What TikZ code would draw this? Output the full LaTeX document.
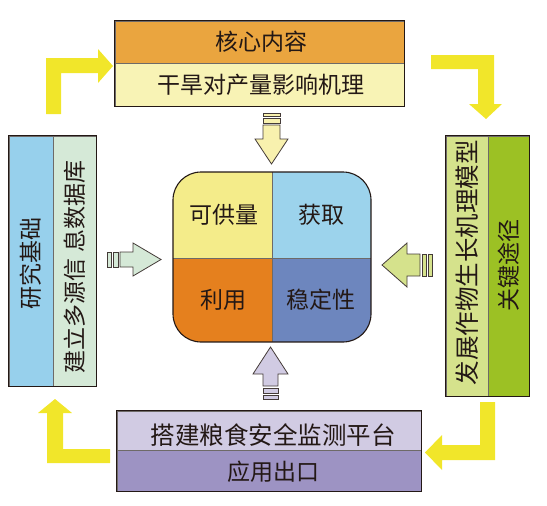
\documentclass[tikz,border=0pt]{standalone}
\usepackage{fontspec}
\newfontfamily\cjk{Noto Sans CJK SC}
\definecolor{ink}{HTML}{231815}
\definecolor{divgray}{HTML}{6E6A68}
\definecolor{topor}{HTML}{EAA53F}
\definecolor{topyl}{HTML}{F8F3B5}
\definecolor{lblue}{HTML}{97D0EC}
\definecolor{lgreen}{HTML}{D5E9D7}
\definecolor{rlime}{HTML}{D5E28C}
\definecolor{rgreen}{HTML}{9CC124}
\definecolor{blav}{HTML}{D1CBE3}
\definecolor{bpurp}{HTML}{9D93C3}
\definecolor{cyel}{HTML}{F4EC8A}
\definecolor{cblue}{HTML}{9CD3EC}
\definecolor{corg}{HTML}{E5801E}
\definecolor{cdblue}{HTML}{6D86BE}
\definecolor{lemon}{HTML}{F1E62A}
\definecolor{adown}{HTML}{F8F1AE}
\tikzset{
  cell/.style={draw=divgray, line width=0.7pt, inner sep=0pt, anchor=center},
  txt/.style={inner sep=0pt, text=ink, font=\cjk\fontsize{23}{26}\selectfont},
  bigtxt/.style={txt, font=\cjk\fontsize{24.5}{28}\selectfont},
  frame/.style={draw=ink, line width=1.3pt},
  blockarrow/.style={draw=ink!85, line width=0.8pt, line join=miter},
  bendarrow/.style={fill=lemon, draw=none}
}
\begin{document}
\begin{tikzpicture}[x=1pt,y=-1pt]
\useasboundingbox (0,0) rectangle (547,506);

% ---- top box
\node[cell, fill=topor, minimum width=289, minimum height=42] (topA) at (259.5,42) {};
\node[cell, fill=topyl, minimum width=289, minimum height=43] (topB) at (259.5,84.5) {};
\node[txt] (topAt) at (261,42) {核心内容};
\node[txt] (topBt) at (261,85) {干旱对产量影响机理};
\draw[frame] (topA.north west) rectangle (topB.south east);

% ---- left box
\node[cell, fill=lblue, minimum width=44, minimum height=250] (leftA) at (31,261) {};
\node[cell, fill=lgreen, minimum width=43, minimum height=250] (leftB) at (74.5,261) {};
\node[txt, rotate=90] (leftAt) at (31,263) {研究基础};
\node[txt, rotate=90] (leftBt) at (74.5,267) {建立多源信\hspace{0.25em}息数据库};
\draw[frame] (leftA.north west) rectangle (leftB.south east);

% ---- right box
\node[cell, fill=rlime, minimum width=42, minimum height=260] (rightA) at (467,266) {};
\node[cell, fill=rgreen, minimum width=41, minimum height=260] (rightB) at (508.5,266) {};
\node[bigtxt, rotate=90] (rightAt) at (467,262.5) {发展作物生长机理模型};
\node[txt, rotate=90] (rightBt) at (508.5,265) {关键途径};
\draw[frame] (rightA.north west) rectangle (rightB.south east);

% ---- bottom box
\node[cell, fill=blav, minimum width=304, minimum height=39] (botA) at (269,430.5) {};
\node[cell, fill=bpurp, minimum width=304, minimum height=41] (botB) at (269,470.5) {};
\node[bigtxt] (botAt) at (273,435) {搭建粮食安全监测平台};
\node[txt] (botBt) at (273,472) {应用出口};
\draw[frame] (botA.north west) rectangle (botB.south east);

% ---- centre panel
\coordinate (cNW) at (173,172);
\coordinate (cSE) at (371,342);
\begin{scope}
\clip[rounded corners=28pt] (cNW) rectangle (cSE);
\fill[cyel] (173,172) rectangle (272,258);
\fill[cblue] (272,172) rectangle (371,258);
\fill[corg] (173,258) rectangle (272,342);
\fill[cdblue] (272,258) rectangle (371,342);
\draw[divgray, line width=0.8pt] (272,172) -- (272,342) (173,258) -- (371,258);
\end{scope}
\draw[frame, line width=1.1pt, rounded corners=28pt] (cNW) rectangle (cSE);
\node[txt] (q1) at (224,215) {可供量};
\node[txt] (q2) at (321,215) {获取};
\node[txt] (q3) at (223,300) {利用};
\node[txt] (q4) at (321,300) {稳定性};

% ---- small block arrows
% down
\draw[blockarrow, fill=adown] (263,113) rectangle (280,116);
\draw[blockarrow, fill=adown] (263,118) rectangle (280,123);
\draw[blockarrow, fill=adown] (263,125) -- (280,125) -- (280,139) -- (288,139) -- (271.5,164) -- (255,139) -- (263,139) -- cycle;
% right-pointing (from left)
\draw[blockarrow, fill=lgreen] (107,252) rectangle (111,267);
\draw[blockarrow, fill=lgreen] (113,252) rectangle (118,267);
\draw[blockarrow, fill=lgreen] (120,252) -- (133,252) -- (133,243) -- (161,259.5) -- (133,276) -- (133,267) -- (120,267) -- cycle;
% left-pointing (from right)
\draw[blockarrow, fill=rlime] (428,254) rectangle (432,276);
\draw[blockarrow, fill=rlime] (422,254) rectangle (426,276);
\draw[blockarrow, fill=rlime] (420,254) -- (407,254) -- (407,243) -- (382,265) -- (407,287) -- (407,276) -- (420,276) -- cycle;
% up
\draw[blockarrow, fill=blav] (263,395) rectangle (278,399);
\draw[blockarrow, fill=blav] (263,388) rectangle (278,393);
\draw[blockarrow, fill=blav] (263,386) -- (278,386) -- (278,374) -- (288,374) -- (270.5,347) -- (253,374) -- (263,374) -- cycle;

% ---- yellow bent arrows
\fill[bendarrow] (46,114) -- (46,58) -- (98,58) -- (98,49) -- (113,66) -- (98,83) -- (98,73) -- (61,73) -- (61,114) -- cycle;
\fill[bendarrow] (431,55) -- (494,55) -- (494,104) -- (502,104) -- (486,119) -- (469,104) -- (478,104) -- (478,69) -- (431,69) -- cycle;
\fill[bendarrow] (110,463) -- (47,463) -- (47,413) -- (38,413) -- (55,399) -- (72,413) -- (63,413) -- (63,449) -- (110,449) -- cycle;
\fill[bendarrow] (480,402) -- (495,402) -- (495,460) -- (442,460) -- (442,470) -- (425,452.5) -- (442,435) -- (442,445) -- (480,445) -- cycle;
\end{tikzpicture}
\end{document}
